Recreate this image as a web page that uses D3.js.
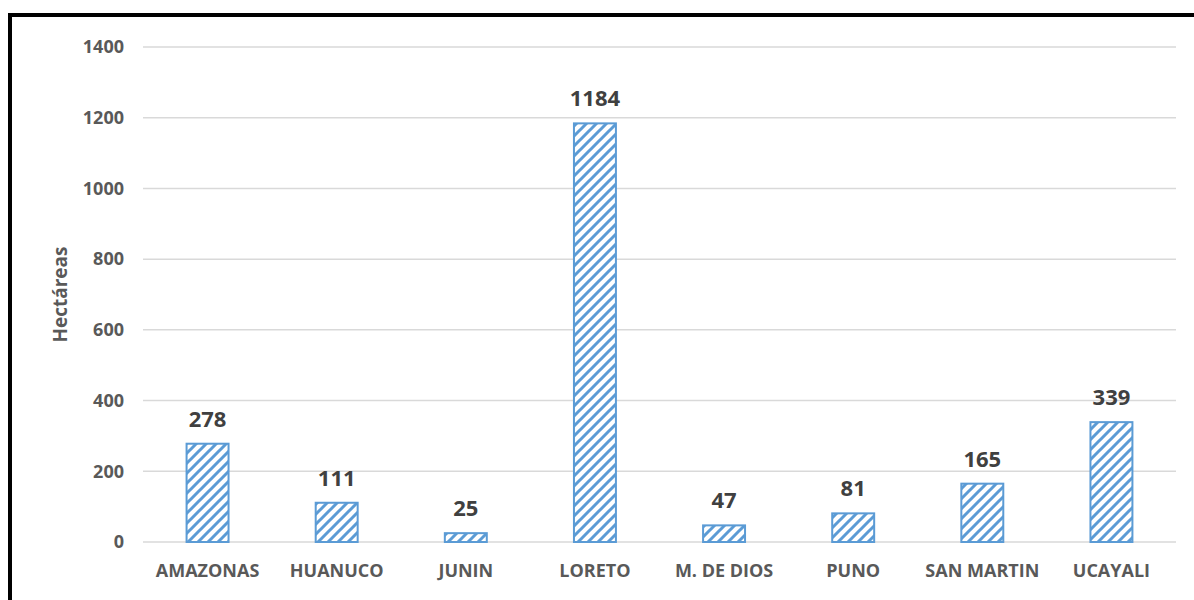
<!DOCTYPE html>
<html>
<head>
<meta charset="utf-8">
<script src="https://cdn.jsdelivr.net/npm/d3@7"></script>
<style>
  body { margin: 0; background: #fff; }
  svg { display: block; }
  .tick text { font-family: "Open Sans", sans-serif; font-weight: bold; fill: #595959; }
</style>
</head>
<body>
<div id="chart"></div>
<script>
const categories = ["AMAZONAS", "HUANUCO", "JUNIN", "LORETO", "M. DE DIOS", "PUNO", "SAN MARTIN", "UCAYALI"];
const values = [278, 111, 25, 1184, 47, 81, 165, 339];
const yTicks = [0, 200, 400, 600, 800, 1000, 1200, 1400];
const yTitle = "Hectáreas";

const W = 1194, H = 600;
const margin = { top: 47, right: 18, bottom: 58, left: 143 };
const BLUE = "#5b9bd5";

const svg = d3.select("#chart").append("svg")
  .attr("width", W)
  .attr("height", H);

// hatch fill
const pat = svg.append("defs").append("pattern")
  .attr("id", "hatch")
  .attr("patternUnits", "userSpaceOnUse")
  .attr("width", 10)
  .attr("height", 10);
pat.append("rect").attr("width", 10).attr("height", 10).attr("fill", "#fff");
pat.append("path")
  .attr("d", "M-2,2 L2,-2 M0,10 L10,0 M8,12 L12,8")
  .attr("stroke", BLUE)
  .attr("stroke-width", 3);

// frame
svg.append("rect")
  .attr("x", 10)
  .attr("y", 15)
  .attr("width", W + 20)
  .attr("height", H + 20)
  .attr("fill", "none")
  .attr("stroke", "#000")
  .attr("stroke-width", 4);

const x = d3.scaleBand()
  .domain(categories)
  .range([margin.left, W - margin.right])
  .paddingInner(0.675)
  .paddingOuter(0.3375);

const y = d3.scaleLinear()
  .domain([0, 1400])
  .range([H - margin.bottom, margin.top]);

// gridlines
svg.append("g")
  .selectAll("line")
  .data(yTicks)
  .join("line")
  .attr("x1", margin.left)
  .attr("x2", W - margin.right)
  .attr("y1", d => y(d))
  .attr("y2", d => y(d))
  .attr("stroke", "#d9d9d9")
  .attr("stroke-width", 1.5);

// y axis
const yAxis = svg.append("g")
  .attr("transform", "translate(" + margin.left + ",0)")
  .call(d3.axisLeft(y).tickValues(yTicks).tickFormat(d3.format("d")).tickSize(0).tickPadding(19));
yAxis.select(".domain").remove();
yAxis.selectAll("text").attr("font-size", 18);

// x axis
const xAxis = svg.append("g")
  .attr("transform", "translate(0," + (H - margin.bottom) + ")")
  .call(d3.axisBottom(x).tickSize(0).tickPadding(22));
xAxis.select(".domain").remove();
xAxis.selectAll("text").attr("font-size", 18);

// bars
svg.append("g")
  .selectAll("rect")
  .data(values)
  .join("rect")
  .attr("x", (d, i) => x(categories[i]))
  .attr("y", d => y(d))
  .attr("width", x.bandwidth())
  .attr("height", d => y(0) - y(d))
  .attr("fill", "url(#hatch)")
  .attr("stroke", BLUE)
  .attr("stroke-width", 2);

// data labels
svg.append("g")
  .selectAll("text")
  .data(values)
  .join("text")
  .attr("x", (d, i) => x(categories[i]) + x.bandwidth() / 2)
  .attr("y", d => y(d) - 17)
  .attr("text-anchor", "middle")
  .attr("font-family", "Open Sans, sans-serif")
  .attr("font-weight", "bold")
  .attr("font-size", 22)
  .attr("fill", "#404040")
  .text(d => d);

// axis title
svg.append("text")
  .attr("transform", "translate(67," + ((margin.top + H - margin.bottom) / 2) + ") rotate(-90)")
  .attr("text-anchor", "middle")
  .attr("font-family", "Open Sans, sans-serif")
  .attr("font-weight", "bold")
  .attr("font-size", 19)
  .attr("fill", "#595959")
  .text(yTitle);
</script>
</body>
</html>
